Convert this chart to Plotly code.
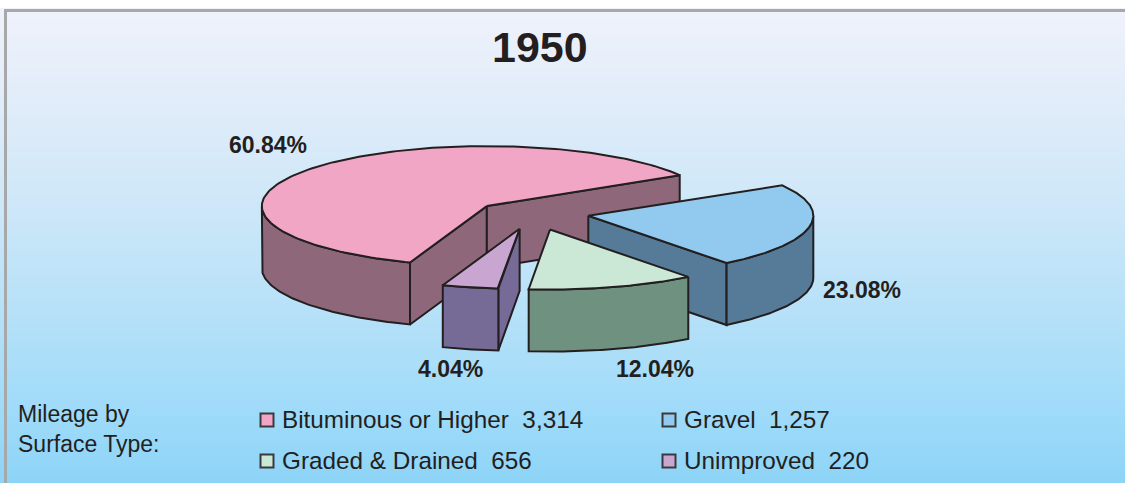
import numpy as np
import plotly.graph_objects as go

# ---- data ----
title_text = "1950"
categories = ["Gravel", "Graded & Drained", "Unimproved", "Bituminous or Higher"]
mileage = [1257, 656, 220, 3314]
value_labels = ["1,257", "656", "220", "3,314"]
percent_labels = ["23.08%", "12.04%", "4.04%", "60.84%"]
legend_heading = ["Mileage by", "Surface Type:"]

# ---- styles ----
top_colors = ["#92c9ee", "#cbe7d5", "#c9a6d1", "#f0a6c4"]
side_colors = ["#557b99", "#6f9280", "#766a96", "#8e677b"]
INK = "#231f20"
FONT = "Liberation Sans"
START = -31.0          # degrees of first slice, clockwise on screen
RX, RY = 225.0, 60.0   # projected pie radii
DEPTH = 62.0
CENTER = (532.0, 216.0)
PULL = [0.25, 0.27, 0.27, 0.26]
NUDGE = [(1, -3), (1, -2), (1, -3), (0, 0)]
DRAW_ORDER = [3, 0, 1, 2]   # back to front
percent_pos = [(862, 290), (655, 369), (450, 369), (268, 145)]
legend_pos = [(669, 419), (267, 460), (669, 460), (267, 419)]

fig = go.Figure()

# gradient panel
rows = np.linspace(10, 483, 120)
fig.add_trace(go.Heatmap(
    x=[5, 1125], y=rows, z=[[r, r] for r in rows], zsmooth="best", showscale=False,
    hoverinfo="skip",
    colorscale=[[0, "#eff2fb"], [0.2, "#e0ecf9"], [0.42, "#cde7f8"], [0.63, "#b7e1f8"],
                [0.84, "#a0dbf9"], [1, "#8dd4f7"]],
))


def poly(xs, ys, color):
    fig.add_trace(go.Scatter(x=list(xs) + [xs[0]], y=list(ys) + [ys[0]], mode="lines", fill="toself",
                             fillcolor=color, line=dict(color=INK, width=2), hoverinfo="skip",
                             showlegend=False))


def project(deg):
    a = np.radians(deg)
    return RX * np.cos(a), RY * np.sin(a)


total = sum(mileage)
edges = START + 360.0 * np.r_[0, np.cumsum(mileage)] / total
for i in DRAW_ORDER:
    s, e = edges[i], edges[i + 1]
    mid = (s + e) / 2
    mx, my = project(mid)
    cx = CENTER[0] + PULL[i] * mx + NUDGE[i][0]
    cy = CENTER[1] + PULL[i] * my + NUDGE[i][1]

    # cut faces turned towards the viewer
    for edge, normal in ((s, s - 90), (e, e + 90)):
        if np.sin(np.radians(normal)) > 0:
            dx, dy = project(edge)
            poly([cx, cx + dx, cx + dx, cx], [cy, cy + dy, cy + dy + DEPTH, cy + DEPTH], side_colors[i])

    # outer wall, front half of the ellipse only
    for lo, hi in ((0, 180), (360, 540)):
        a0, a1 = max(s, lo), min(e, hi)
        if a1 > a0:
            th = np.linspace(a0, a1, 80)
            px, py = project(th)
            xs = np.r_[cx + px, (cx + px)[::-1]]
            ys = np.r_[cy + py, (cy + py + DEPTH)[::-1]]
            poly(xs.tolist(), ys.tolist(), side_colors[i])

    # top
    th = np.linspace(s, e, 160)
    px, py = project(th)
    poly([cx] + (cx + px).tolist(), [cy] + (cy + py).tolist(), top_colors[i])

# legend swatches
fig.add_trace(go.Scatter(
    x=[p[0] for p in legend_pos], y=[p[1] + 1 for p in legend_pos], mode="markers", showlegend=False,
    hoverinfo="skip",
    marker=dict(symbol="square", size=13, color=top_colors, line=dict(color="#3a3a3c", width=2)),
))


def text(x, y, s, size, bold=False, anchor="center"):
    fig.add_annotation(x=x, y=y, xref="x", yref="y", text=f"<b>{s}</b>" if bold else s, showarrow=False,
                       xanchor=anchor, yanchor="middle", font=dict(family=FONT, size=size, color=INK))


text(540, 47, title_text, 43, bold=True)
for (x, y), s in zip(percent_pos, percent_labels):
    text(x, y, s, 23, bold=True)
text(16, 414, legend_heading[0], 23, anchor="left")
text(16, 444, legend_heading[1], 23, anchor="left")
for (x, y), c, val in zip(legend_pos, categories, value_labels):
    text(x + 13, y, f"{c}\u00a0\u00a0{val}", 24.3, anchor="left")

fig.update_layout(
    width=1125, height=483, margin=dict(l=0, r=0, t=0, b=0), paper_bgcolor="white", plot_bgcolor="white",
    xaxis=dict(range=[0, 1125], visible=False, fixedrange=True),
    yaxis=dict(range=[483, 0], visible=False, fixedrange=True),
    shapes=[
        dict(type="line", xref="x", yref="y", x0=4, x1=1125, y0=10.5, y1=10.5, line=dict(color="#a7a8aa", width=3)),
        dict(type="line", xref="x", yref="y", x0=5.5, x1=5.5, y0=9, y1=483, line=dict(color="#a7a8aa", width=3)),
    ],
)
fig.write_html("out.html", config=dict(displayModeBar=False),
               post_script="document.body.style.margin='0';")
